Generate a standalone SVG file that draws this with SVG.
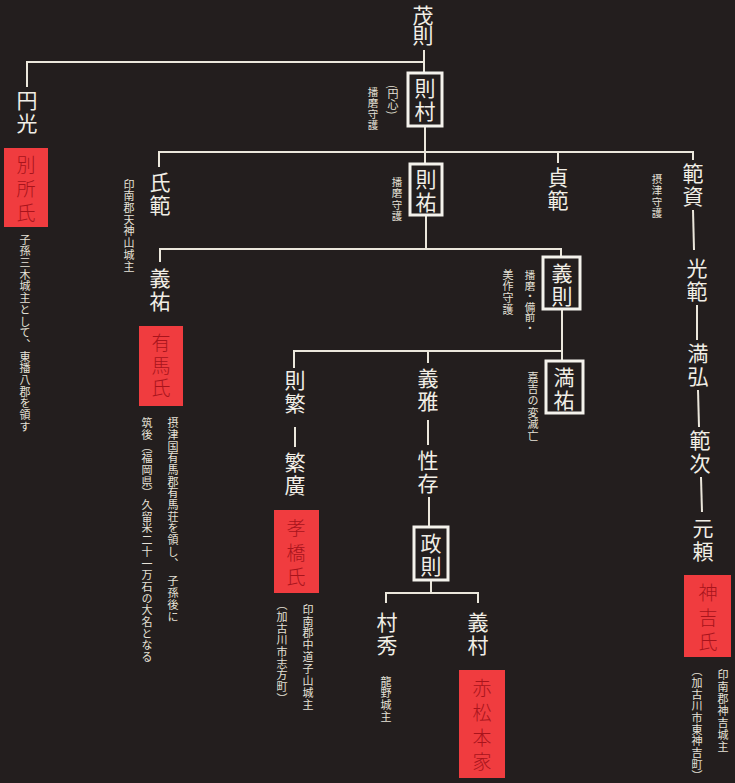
<svg xmlns="http://www.w3.org/2000/svg" width="735" height="783" viewBox="0 0 735 783">
<style>
text{font-family:"Noto Sans CJK JP","Noto Sans CJK SC",sans-serif;writing-mode:vertical-rl;}
.n{font-size:21px;fill:#f1eee6;letter-spacing:2px;}
.c{font-size:11px;fill:#e6e2d8;letter-spacing:0.7px;}
.r{font-size:19px;fill:#a8141c;letter-spacing:5px;font-weight:300;}
.box{fill:none;stroke:#f4f2ec;stroke-width:3;}
.fam{fill:#f03c3f;}
#connectors line{stroke:#ebe7dc;stroke-width:2;}
</style>
<rect width="735" height="783" fill="#231e1e"/>
<g id="connectors">
<line x1="27" y1="62" x2="424" y2="62"/>
<line x1="27" y1="61" x2="27" y2="87"/>
<line x1="424" y1="50" x2="424" y2="73"/>
<line x1="425" y1="126" x2="425" y2="164"/>
<line x1="159" y1="152" x2="693" y2="152"/>
<line x1="159" y1="151" x2="159" y2="167"/>
<line x1="558" y1="151" x2="558" y2="163"/>
<line x1="693" y1="151" x2="693" y2="160"/>
<line x1="426" y1="215" x2="426" y2="250"/>
<line x1="160" y1="249" x2="561" y2="249"/>
<line x1="160" y1="248" x2="160" y2="262"/>
<line x1="561" y1="248" x2="561" y2="257"/>
<line x1="562" y1="309" x2="562" y2="361"/>
<line x1="294" y1="351" x2="562" y2="351"/>
<line x1="294" y1="350" x2="294" y2="368"/>
<line x1="428" y1="350" x2="428" y2="363"/>
<line x1="295" y1="427" x2="295" y2="447"/>
<line x1="428" y1="420" x2="428" y2="445"/>
<line x1="429" y1="497" x2="429" y2="527"/>
<line x1="431" y1="580" x2="431" y2="593"/>
<line x1="386" y1="593" x2="478" y2="593"/>
<line x1="386" y1="592" x2="386" y2="603"/>
<line x1="478" y1="592" x2="478" y2="603"/>
<line x1="693" y1="210" x2="694" y2="250"/>
<line x1="697" y1="305" x2="697" y2="340"/>
<line x1="698" y1="390" x2="699" y2="427"/>
<line x1="701" y1="477" x2="702" y2="512"/>
</g>
<g id="n-shigenori"><text class="n" x="423" y="4.5" style="letter-spacing:-1px">茂則</text></g>
<g id="n-enko"><text class="n" x="27" y="89.5">円光</text></g>
<g id="f-bessho"><rect class="fam" x="4" y="148" width="44" height="79"/><text class="r" x="26" y="155.5">別所氏</text>
<text class="c" x="25" y="234">子孫三木城主として、東播八郡を領す</text></g>
<g id="n-norimura"><rect class="box" x="408" y="73" width="34" height="53"/><text class="n" x="425" y="77.5">則村</text>
<text class="c" x="393" y="85" style="letter-spacing:0">(円心)</text>
<text class="c" x="373" y="86.5" style="font-size:10.5px">播磨守護</text></g>
<g id="n-ujinori"><text class="n" x="160" y="171.5">氏範</text>
<text class="c" x="129" y="179">印南郡天神山城主</text></g>
<g id="n-norisuke"><rect class="box" x="410" y="164" width="32" height="51"/><text class="n" x="426" y="168.5">則祐</text>
<text class="c" x="397" y="177" style="font-size:10.5px">播磨守護</text></g>
<g id="n-sadanori"><text class="n" x="558" y="166.5">貞範</text></g>
<g id="n-norisuke2"><text class="n" x="693" y="162.5">範資</text>
<text class="c" x="657" y="174" style="font-size:10.5px">摂津守護</text></g>
<g id="n-yoshisuke"><text class="n" x="160" y="267.5">義祐</text></g>
<g id="f-arima"><rect class="fam" x="139" y="326" width="44" height="80"/><text class="r" x="161" y="333.5" style="letter-spacing:3.5px">有馬氏</text>
<text class="c" x="173" y="417.5">摂津国有馬郡有馬荘を領し、　子孫後に</text>
<text class="c" x="147" y="417.5">筑後（福岡県）久留米二十一万石の大名となる</text></g>
<g id="n-yoshinori"><rect class="box" x="543" y="257" width="37" height="52"/><text class="n" x="562" y="262.5">義則</text>
<text class="c" x="530" y="270" style="font-size:10.5px;letter-spacing:0">播磨・備前・</text>
<text class="c" x="508" y="269">美作守護</text></g>
<g id="n-mitsunori"><text class="n" x="697" y="257.5">光範</text></g>
<g id="n-norishige"><text class="n" x="295" y="369.5">則繁</text></g>
<g id="n-yoshimasa"><text class="n" x="428" y="367.5">義雅</text></g>
<g id="n-mitsusuke"><rect class="box" x="546" y="361" width="37" height="52"/><text class="n" x="564" y="366.5">満祐</text>
<text class="c" x="533" y="372">嘉吉の変滅亡</text></g>
<g id="n-mitsuhiro"><text class="n" x="698" y="342.5">満弘</text></g>
<g id="n-shigehiro"><text class="n" x="295" y="451.5">繁廣</text></g>
<g id="n-shoson"><text class="n" x="428" y="449.5">性存</text></g>
<g id="n-noritsugu"><text class="n" x="700" y="429.5">範次</text></g>
<g id="f-kohashi"><rect class="fam" x="274" y="510" width="45" height="83"/><text class="r" x="296" y="518.5" style="letter-spacing:5.5px">孝橋氏</text>
<text class="c" x="308" y="604" style="letter-spacing:0.9px">印南郡中道子山城主</text>
<text class="c" x="282" y="599.5">（加古川市志方町）</text></g>
<g id="n-masanori"><rect class="box" x="414" y="527" width="34" height="53"/><text class="n" x="431" y="532.5">政則</text></g>
<g id="n-motoyori"><text class="n" x="703" y="517.5">元頼</text></g>
<g id="f-kanki"><rect class="fam" x="684" y="575" width="47" height="82"/><text class="r" x="708" y="583.5" style="letter-spacing:5.5px">神吉氏</text>
<text class="c" x="723" y="669" style="letter-spacing:1px">印南郡神吉城主</text>
<text class="c" x="697" y="665.5">（加古川市東神吉町）</text></g>
<g id="n-murahide"><text class="n" x="387" y="611.5">村秀</text>
<text class="c" x="386" y="676">龍野城主</text></g>
<g id="n-yoshimura"><text class="n" x="478" y="611.5">義村</text></g>
<g id="f-akamatsu"><rect class="fam" x="459" y="670" width="46" height="108"/><text class="r" x="482" y="678.5" style="letter-spacing:5.7px">赤松本家</text></g>
</svg>
